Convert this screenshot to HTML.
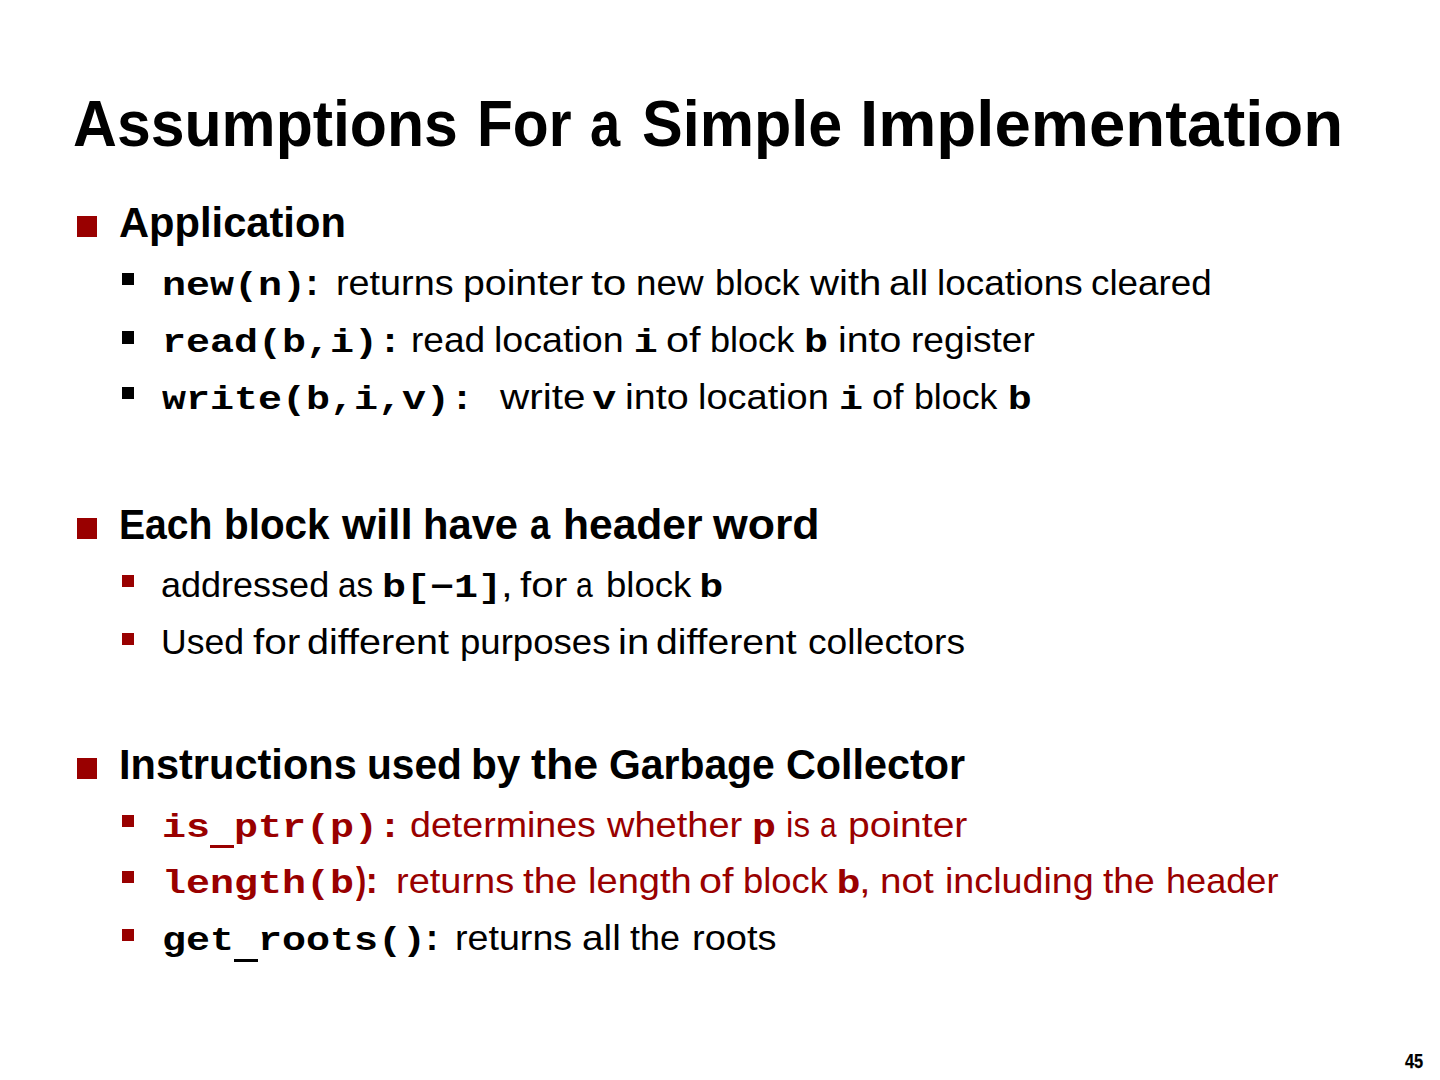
<!DOCTYPE html>
<html><head><meta charset='utf-8'><title>Assumptions For a Simple Implementation</title><style>
html,body{margin:0;padding:0;background:#fff;}body{width:1440px;height:1080px;position:relative;overflow:hidden;}
.s{position:absolute;white-space:pre;line-height:normal;}
.b{position:absolute;}
.u{position:relative;top:7.5px;}
.title{font-family:'Liberation Sans', sans-serif;font-weight:bold;font-size:65px;}
.l1{font-family:'Liberation Sans', sans-serif;font-weight:bold;font-size:42.5px;}
.l2{font-family:'Liberation Sans', sans-serif;font-weight:normal;font-size:35px;}
.l2b{font-family:'Liberation Sans', sans-serif;font-weight:bold;font-size:36px;}
.l2bc{font-family:'Liberation Sans', sans-serif;font-weight:bold;font-size:36px;}
.monoO{font-family:'Liberation Mono', monospace;font-weight:bold;font-size:40px;}
.mono{font-family:'Liberation Mono', monospace;font-weight:bold;font-size:40px;}
.pg{font-family:'Liberation Sans', sans-serif;font-weight:bold;font-size:20px;-webkit-text-stroke:0.25px currentColor;}
</style></head><body>
<div class='b' style='left:76.8px;top:216.0px;width:20.6px;height:20.7px;background:#990000'></div>
<div class='b' style='left:76.8px;top:518.0px;width:20.6px;height:20.7px;background:#990000'></div>
<div class='b' style='left:76.8px;top:758.0px;width:20.6px;height:20.7px;background:#990000'></div>
<div class='b' style='left:121.8px;top:272.8px;width:12.5px;height:12.3px;background:#000'></div>
<div class='b' style='left:121.8px;top:331.3px;width:12.5px;height:12.3px;background:#000'></div>
<div class='b' style='left:121.8px;top:386.8px;width:12.5px;height:12.3px;background:#000'></div>
<div class='b' style='left:121.8px;top:574.8px;width:12.5px;height:12.3px;background:#990000'></div>
<div class='b' style='left:121.8px;top:632.8px;width:12.5px;height:12.3px;background:#990000'></div>
<div class='b' style='left:121.8px;top:815.0px;width:12.5px;height:12.3px;background:#990000'></div>
<div class='b' style='left:121.8px;top:871.0px;width:12.5px;height:12.3px;background:#990000'></div>
<div class='b' style='left:121.8px;top:929.0px;width:12.5px;height:12.3px;background:#990000'></div>
<div class='s title' style='left:73.43px;top:86.00px;color:#000;transform:scale(0.9349,1.0000);transform-origin:0 60px;'>Assumptions</div>
<div class='s title' style='left:476.69px;top:86.00px;color:#000;transform:scale(0.9030,1.0000);transform-origin:0 60px;'>For</div>
<div class='s title' style='left:589.73px;top:86.00px;color:#000;transform:scale(0.8343,1.0000);transform-origin:0 60px;'>a</div>
<div class='s title' style='left:642.12px;top:86.00px;color:#000;transform:scale(0.9392,1.0000);transform-origin:0 60px;'>Simple</div>
<div class='s title' style='left:860.38px;top:86.00px;color:#000;transform:scale(1.0061,1.0000);transform-origin:0 60px;'>Implementation</div>
<div class='s l1' style='left:119.02px;top:198.70px;color:#000;transform:scale(0.9803,1.0000);transform-origin:0 38px;'>Application</div>
<div class='s monoO' style='left:162.00px;top:261.80px;color:#000;transform:scale(1.0000,0.8100);transform-origin:0 33px;'>new(n)</div>
<div class='s l2bc' style='left:306.00px;top:261.80px;color:#000;'>:</div>
<div class='s l2' style='left:335.64px;top:262.80px;color:#000;transform:scale(1.0792,1.0000);transform-origin:0 32px;'>returns</div>
<div class='s l2' style='left:463.36px;top:262.80px;color:#000;transform:scale(1.1212,1.0000);transform-origin:0 32px;'>pointer</div>
<div class='s l2' style='left:591.39px;top:262.80px;color:#000;transform:scale(1.2111,1.0000);transform-origin:0 32px;'>to</div>
<div class='s l2' style='left:635.70px;top:262.80px;color:#000;transform:scale(1.0516,1.0000);transform-origin:0 32px;'>new</div>
<div class='s l2' style='left:714.63px;top:262.80px;color:#000;transform:scale(1.0362,1.0000);transform-origin:0 32px;'>block</div>
<div class='s l2' style='left:810.40px;top:262.80px;color:#000;transform:scale(1.1467,1.0000);transform-origin:0 32px;'>with</div>
<div class='s l2' style='left:889.01px;top:262.80px;color:#000;transform:scale(1.1210,1.0000);transform-origin:0 32px;'>all</div>
<div class='s l2' style='left:937.09px;top:262.80px;color:#000;transform:scale(1.0541,1.0000);transform-origin:0 32px;'>locations</div>
<div class='s l2' style='left:1090.90px;top:262.80px;color:#000;transform:scale(1.0505,1.0000);transform-origin:0 32px;'>cleared</div>
<div class='s monoO' style='left:162.00px;top:319.40px;color:#000;transform:scale(1.0000,0.8100);transform-origin:0 33px;'>read(b,i):</div>
<div class='s l2' style='left:411.38px;top:320.40px;color:#000;transform:scale(1.0576,1.0000);transform-origin:0 32px;'>read</div>
<div class='s l2' style='left:494.10px;top:320.40px;color:#000;transform:scale(1.0739,1.0000);transform-origin:0 32px;'>location</div>
<div class='s l2' style='left:666.39px;top:320.40px;color:#000;transform:scale(1.1796,1.0000);transform-origin:0 32px;'>of</div>
<div class='s l2' style='left:709.94px;top:320.40px;color:#000;transform:scale(1.0300,1.0000);transform-origin:0 32px;'>block</div>
<div class='s l2' style='left:837.96px;top:320.40px;color:#000;transform:scale(1.1208,1.0000);transform-origin:0 32px;'>into</div>
<div class='s l2' style='left:910.88px;top:320.40px;color:#000;transform:scale(1.0614,1.0000);transform-origin:0 32px;'>register</div>
<div class='s mono' style='left:633.85px;top:319.40px;color:#000;transform:scale(1.0000,0.8100);transform-origin:0 33px;'>i</div>
<div class='s mono' style='left:804.05px;top:319.40px;color:#000;transform:scale(1.0000,0.8100);transform-origin:0 33px;'>b</div>
<div class='s monoO' style='left:162.00px;top:375.60px;color:#000;transform:scale(1.0000,0.8100);transform-origin:0 33px;'>write(b,i,v):</div>
<div class='s l2' style='left:499.80px;top:376.60px;color:#000;transform:scale(1.1556,1.0000);transform-origin:0 32px;'>write</div>
<div class='s l2' style='left:625.44px;top:376.60px;color:#000;transform:scale(1.1283,1.0000);transform-origin:0 32px;'>into</div>
<div class='s l2' style='left:698.43px;top:376.60px;color:#000;transform:scale(1.0846,1.0000);transform-origin:0 32px;'>location</div>
<div class='s l2' style='left:872.04px;top:376.60px;color:#000;transform:scale(1.0778,1.0000);transform-origin:0 32px;'>of</div>
<div class='s l2' style='left:914.46px;top:376.60px;color:#000;transform:scale(1.0200,1.0000);transform-origin:0 32px;'>block</div>
<div class='s mono' style='left:592.20px;top:375.60px;color:#000;transform:scale(1.0000,0.8100);transform-origin:0 33px;'>v</div>
<div class='s mono' style='left:838.90px;top:375.60px;color:#000;transform:scale(1.0000,0.8100);transform-origin:0 33px;'>i</div>
<div class='s mono' style='left:1007.85px;top:375.60px;color:#000;transform:scale(1.0000,0.8100);transform-origin:0 33px;'>b</div>
<div class='s l1' style='left:118.94px;top:500.70px;color:#000;transform:scale(0.9198,1.0000);transform-origin:0 38px;'>Each</div>
<div class='s l1' style='left:223.85px;top:500.70px;color:#000;transform:scale(0.9509,1.0000);transform-origin:0 38px;'>block</div>
<div class='s l1' style='left:342.00px;top:500.70px;color:#000;transform:scale(1.0303,1.0000);transform-origin:0 38px;'>will</div>
<div class='s l1' style='left:422.66px;top:500.70px;color:#000;transform:scale(0.9804,1.0000);transform-origin:0 38px;'>have</div>
<div class='s l1' style='left:530.15px;top:500.70px;color:#000;transform:scale(0.8522,1.0000);transform-origin:0 38px;'>a</div>
<div class='s l1' style='left:562.80px;top:500.70px;color:#000;transform:scale(1.0015,1.0000);transform-origin:0 38px;'>header</div>
<div class='s l1' style='left:713.00px;top:500.70px;color:#000;transform:scale(1.0505,1.0000);transform-origin:0 38px;'>word</div>
<div class='s l2' style='left:161.24px;top:564.60px;color:#000;transform:scale(1.0289,1.0000);transform-origin:0 32px;'>addressed</div>
<div class='s l2' style='left:337.50px;top:564.60px;color:#000;transform:scale(0.9500,1.0000);transform-origin:0 32px;'>as</div>
<div class='s l2' style='left:500.50px;top:564.60px;color:#000;transform:scale(1.2000,1.0000);transform-origin:0 32px;'>,</div>
<div class='s l2' style='left:520.45px;top:564.60px;color:#000;transform:scale(1.1538,1.0000);transform-origin:0 32px;'>for</div>
<div class='s l2' style='left:576.28px;top:564.60px;color:#000;transform:scale(0.8611,1.0000);transform-origin:0 32px;'>a</div>
<div class='s l2' style='left:605.61px;top:564.60px;color:#000;transform:scale(1.0437,1.0000);transform-origin:0 32px;'>block</div>
<div class='s monoO' style='left:382.00px;top:563.60px;color:#000;transform:scale(1.0000,0.8100);transform-origin:0 33px;'>b[−1]</div>
<div class='s mono' style='left:699.20px;top:563.60px;color:#000;transform:scale(1.0000,0.8100);transform-origin:0 33px;'>b</div>
<div class='s l2' style='left:161.25px;top:622.40px;color:#000;transform:scale(1.0156,1.0000);transform-origin:0 32px;'>Used</div>
<div class='s l2' style='left:253.04px;top:622.40px;color:#000;transform:scale(1.1590,1.0000);transform-origin:0 32px;'>for</div>
<div class='s l2' style='left:307.34px;top:622.40px;color:#000;transform:scale(1.1290,1.0000);transform-origin:0 32px;'>different</div>
<div class='s l2' style='left:459.61px;top:622.40px;color:#000;transform:scale(1.0447,1.0000);transform-origin:0 32px;'>purposes</div>
<div class='s l2' style='left:618.31px;top:622.40px;color:#000;transform:scale(1.1435,1.0000);transform-origin:0 32px;'>in</div>
<div class='s l2' style='left:656.27px;top:622.40px;color:#000;transform:scale(1.1169,1.0000);transform-origin:0 32px;'>different</div>
<div class='s l2' style='left:808.08px;top:622.40px;color:#000;transform:scale(1.0621,1.0000);transform-origin:0 32px;'>collectors</div>
<div class='s l1' style='left:118.77px;top:740.70px;color:#000;transform:scale(0.9777,1.0000);transform-origin:0 38px;'>Instructions</div>
<div class='s l1' style='left:366.83px;top:740.70px;color:#000;transform:scale(0.9559,1.0000);transform-origin:0 38px;'>used</div>
<div class='s l1' style='left:470.91px;top:740.70px;color:#000;transform:scale(0.9957,1.0000);transform-origin:0 38px;'>by</div>
<div class='s l1' style='left:530.65px;top:740.70px;color:#000;transform:scale(1.0541,1.0000);transform-origin:0 38px;'>the</div>
<div class='s l1' style='left:609.48px;top:740.70px;color:#000;transform:scale(0.9615,1.0000);transform-origin:0 38px;'>Garbage</div>
<div class='s l1' style='left:785.85px;top:740.70px;color:#000;transform:scale(0.9725,1.0000);transform-origin:0 38px;'>Collector</div>
<div class='b' style='left:209.70px;top:844.90px;width:24.6px;height:3.5px;background:#990000'></div>
<div class='s monoO' style='left:162.00px;top:803.60px;color:#990000;transform:scale(1.0000,0.8100);transform-origin:0 33px;'>is ptr(p):</div>
<div class='s l2' style='left:410.10px;top:804.60px;color:#990000;transform:scale(1.0738,1.0000);transform-origin:0 32px;'>determines</div>
<div class='s l2' style='left:607.10px;top:804.60px;color:#990000;transform:scale(1.0863,1.0000);transform-origin:0 32px;'>whether</div>
<div class='s l2' style='left:786.40px;top:804.60px;color:#990000;transform:scale(0.9500,1.0000);transform-origin:0 32px;'>is</div>
<div class='s l2' style='left:820.00px;top:804.60px;color:#990000;transform:scale(0.8500,1.0000);transform-origin:0 32px;'>a</div>
<div class='s l2' style='left:847.87px;top:804.60px;color:#990000;transform:scale(1.1154,1.0000);transform-origin:0 32px;'>pointer</div>
<div class='s mono' style='left:752.12px;top:803.60px;color:#990000;transform:scale(1.0000,0.8100);transform-origin:0 33px;'>p</div>
<div class='s monoO' style='left:162.00px;top:859.50px;color:#990000;transform:scale(1.0000,0.8100);transform-origin:0 33px;'>length(b</div>
<div class='s l2b' style='left:356.20px;top:859.50px;color:#990000;transform:scale(0.8500,1.0000);transform-origin:0 33px;'>)</div>
<div class='s l2bc' style='left:365.80px;top:859.50px;color:#990000;'>:</div>
<div class='s l2' style='left:395.83px;top:860.50px;color:#990000;transform:scale(1.0849,1.0000);transform-origin:0 32px;'>returns</div>
<div class='s l2' style='left:523.09px;top:860.50px;color:#990000;transform:scale(1.1109,1.0000);transform-origin:0 32px;'>the</div>
<div class='s l2' style='left:587.52px;top:860.50px;color:#990000;transform:scale(1.0879,1.0000);transform-origin:0 32px;'>length</div>
<div class='s l2' style='left:699.14px;top:860.50px;color:#990000;transform:scale(1.1815,1.0000);transform-origin:0 32px;'>of</div>
<div class='s l2' style='left:742.52px;top:860.50px;color:#990000;transform:scale(1.0388,1.0000);transform-origin:0 32px;'>block</div>
<div class='s l2' style='left:858.95px;top:860.50px;color:#990000;transform:scale(1.2000,1.0000);transform-origin:0 32px;'>,</div>
<div class='s l2' style='left:879.89px;top:860.50px;color:#990000;transform:scale(1.1043,1.0000);transform-origin:0 32px;'>not</div>
<div class='s l2' style='left:945.05px;top:860.50px;color:#990000;transform:scale(1.0761,1.0000);transform-origin:0 32px;'>including</div>
<div class='s l2' style='left:1102.54px;top:860.50px;color:#990000;transform:scale(1.0630,1.0000);transform-origin:0 32px;'>the</div>
<div class='s l2' style='left:1165.74px;top:860.50px;color:#990000;transform:scale(1.0321,1.0000);transform-origin:0 32px;'>header</div>
<div class='s mono' style='left:836.50px;top:859.50px;color:#990000;transform:scale(1.0000,0.8100);transform-origin:0 33px;'>b</div>
<div class='b' style='left:233.70px;top:958.60px;width:24.6px;height:3.5px;background:#000'></div>
<div class='s monoO' style='left:162.00px;top:917.30px;color:#000;transform:scale(1.0000,0.8100);transform-origin:0 33px;'>get roots()</div>
<div class='s l2bc' style='left:426.10px;top:917.30px;color:#000;'>:</div>
<div class='s l2' style='left:454.85px;top:918.30px;color:#000;transform:scale(1.0755,1.0000);transform-origin:0 32px;'>returns</div>
<div class='s l2' style='left:581.79px;top:918.30px;color:#000;transform:scale(1.1065,1.0000);transform-origin:0 32px;'>all</div>
<div class='s l2' style='left:630.27px;top:918.30px;color:#000;transform:scale(1.0261,1.0000);transform-origin:0 32px;'>the</div>
<div class='s l2' style='left:691.63px;top:918.30px;color:#000;transform:scale(1.0867,1.0000);transform-origin:0 32px;'>roots</div>
<div class='s pg' style='left:1405.00px;top:1050.00px;color:#000;transform:scale(0.8182,1.0000);transform-origin:0 18px;'>45</div>
</body></html>
